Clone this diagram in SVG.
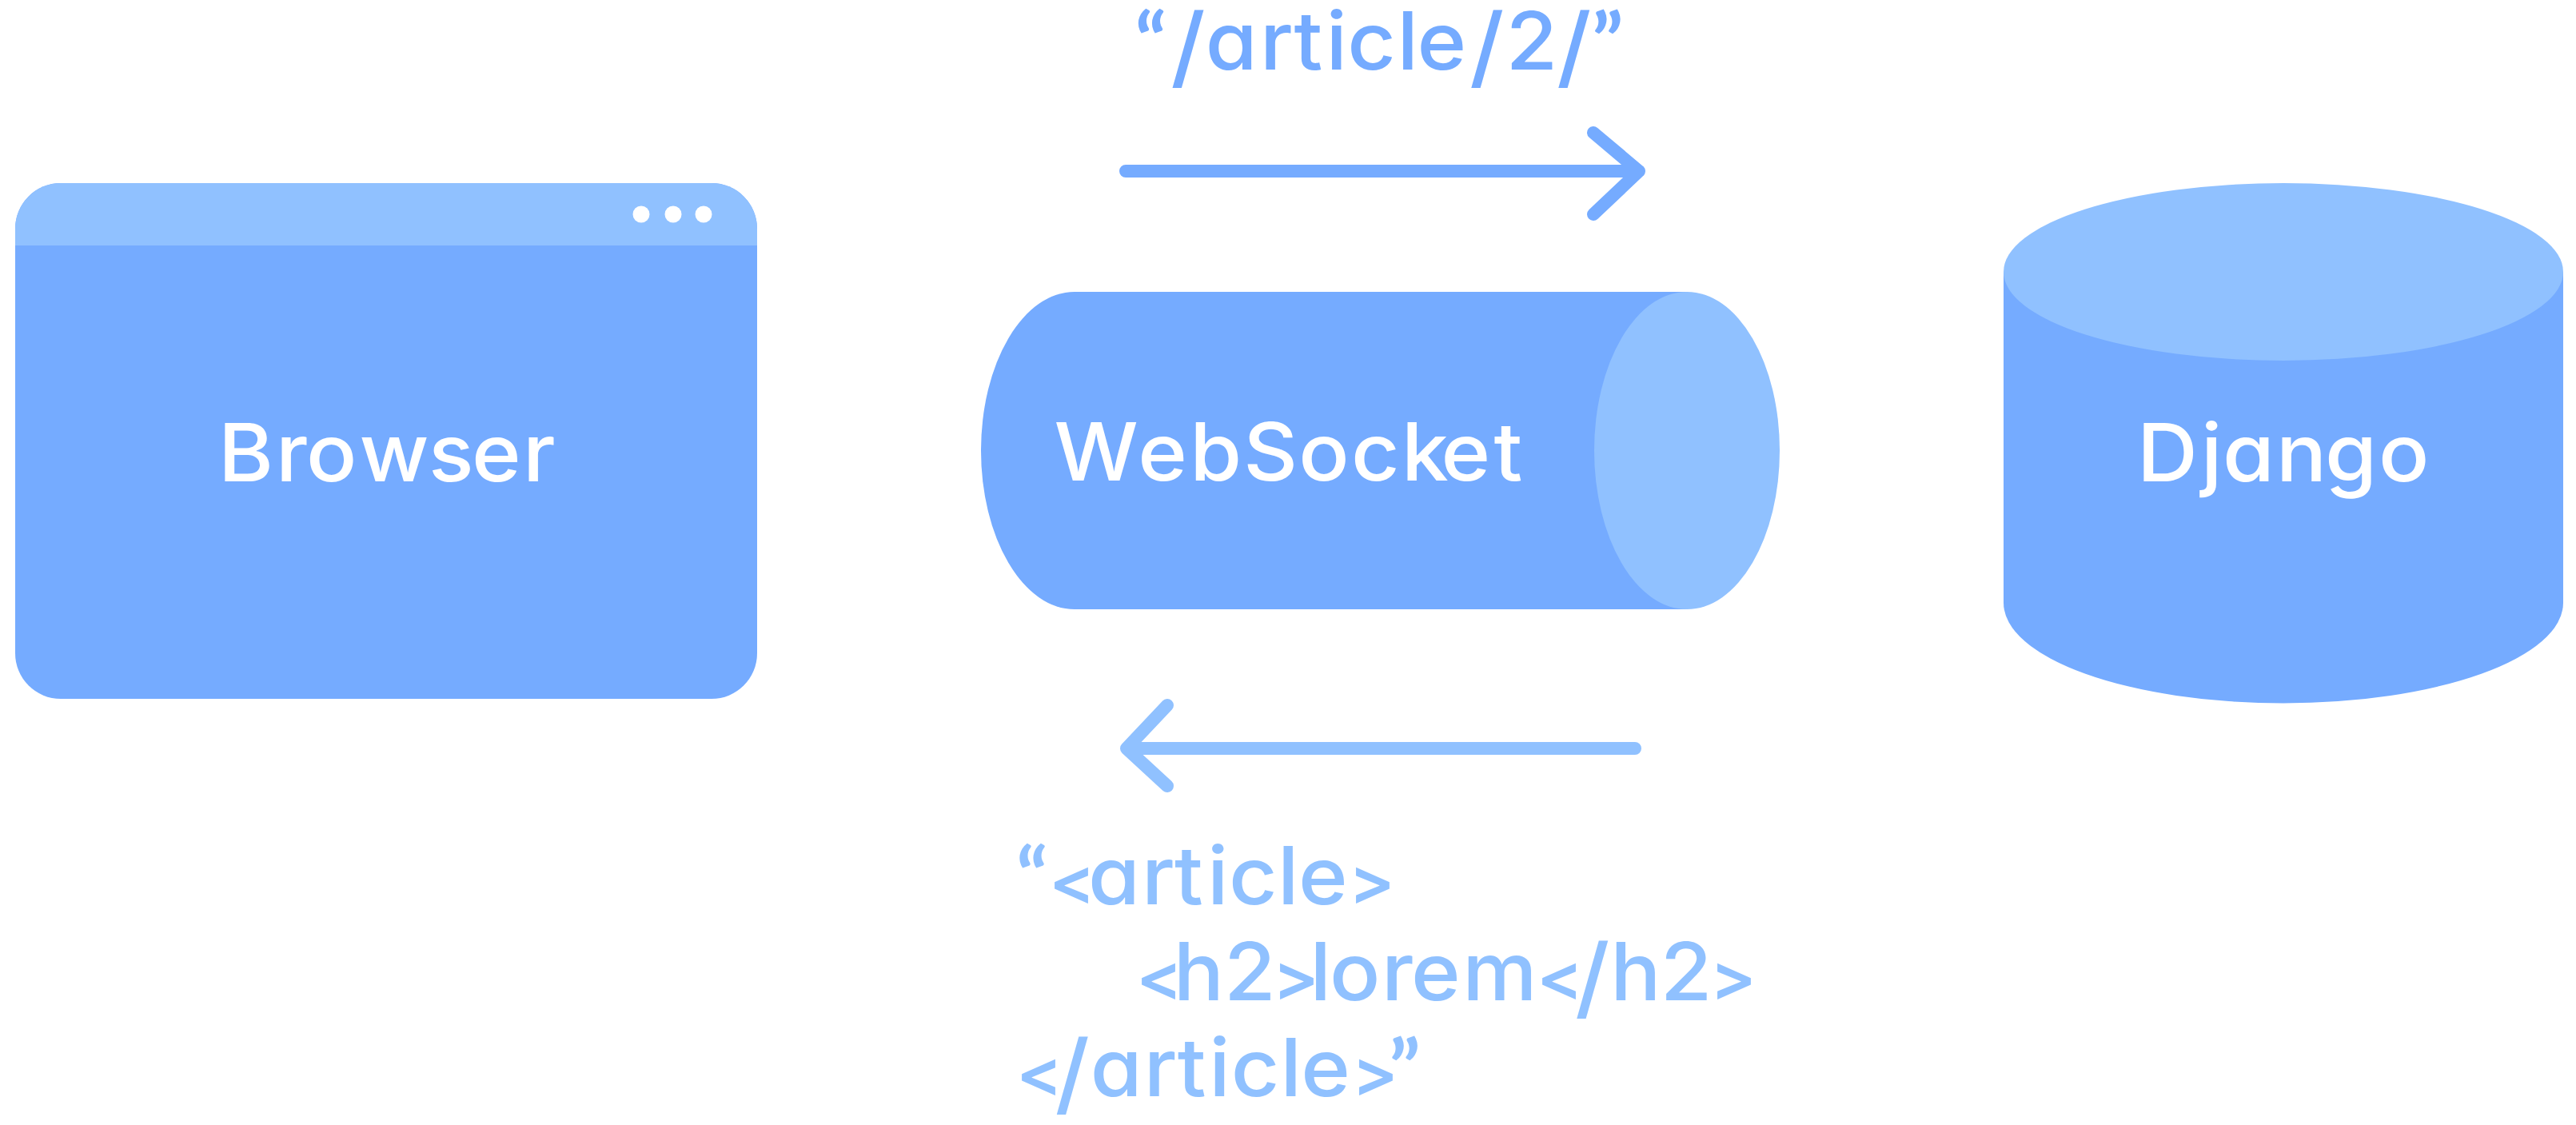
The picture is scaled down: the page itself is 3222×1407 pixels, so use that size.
<svg xmlns="http://www.w3.org/2000/svg" width="3222" height="1407" viewBox="0 0 3222 1407">
<style>
.d{fill:#75ABFF}.l{fill:#90C1FF}.w{fill:#fff}
text{font-family:Inter,"Noto Sans","Liberation Sans",sans-serif;font-size:100px;font-weight:500;font-feature-settings:"cv11";transform:scaleX(1.05)}
.q{font-family:Lato,"Liberation Sans",sans-serif;font-size:98px;font-weight:700}
.b{font-size:82px;font-weight:600}
.s{font-size:112px}
.a{fill:none;stroke-width:16;stroke-linecap:round;stroke-linejoin:round}
</style>
<rect width="3222" height="1407" fill="#fff"/>
<g id="browser">
<rect class="d" x="19" y="229" width="928" height="645" rx="57"/>
<path class="l" d="M19 307V286A57 57 0 0 1 76 229H890A57 57 0 0 1 947 286V307Z"/>
<circle class="w" cx="802" cy="268" r="10.500"/><circle class="w" cx="842" cy="268" r="10.500"/><circle class="w" cx="880" cy="268" r="10.500"/>
<text class="w" x="260 328.6 364.8 428.1 510.5 561.9 622.9" y="602">Browser</text>
</g>
<g id="websocket">
<path class="d" d="M1344 365H2110V762H1344A117 198.500 0 0 1 1344 365Z"/>
<ellipse class="l" cx="2110" cy="563.500" rx="116" ry="198.500"/>
<text class="w" x="1255.8 1355.6 1417.5 1481.3 1546.9 1609.5 1669.5 1716.7 1779.5" y="601">WebSocket</text>
</g>
<g id="django">
<path class="d" d="M2506 340H3206V754A350 125.500 0 0 1 2506 754Z"/>
<ellipse class="l" cx="2856" cy="340" rx="350" ry="111"/>
<text class="w" x="2545.7 2621.9 2647.6 2711.4 2769.5 2833.3" y="602">Django</text>
</g>
<g id="connectors">
<path class="a" stroke="#75ABFF" d="M1408 214H2050M1993 166L2050 214M1993 268L2050 214"/>
<path class="a" stroke="#90C1FF" d="M2045 936H1409M1460 882L1409 936M1460 983L1409 936"/>
</g>
<g id="labels">
<text class="d" y="87"><tspan class="q" x="1351.8">“</tspan><tspan class="s" x="1394.5" dy="11">/</tspan><tspan x="1436 1501 1541.5 1579.5 1605 1664.4 1688" dy="-11">article</tspan><tspan class="s" x="1750.5" dy="11">/</tspan><tspan x="1793.8" dy="-11">2</tspan><tspan class="s" x="1854.3" dy="11">/</tspan><tspan class="q" x="1895.9" dy="-11">”</tspan></text>
<text class="l" y="1131"><tspan class="q" x="1210.5">“</tspan><tspan class="b" x="1249.6">&lt;</tspan><tspan x="1296.2 1360 1399 1438.1 1463.8 1521.9 1546.7">article</tspan><tspan class="b" x="1606.7">&gt;</tspan></text>
<text class="l" y="1251"><tspan class="b" x="1353.4">&lt;</tspan><tspan x="1397.8 1458.1">h2</tspan><tspan class="b" x="1516.2">&gt;</tspan><tspan x="1560.6 1583.8 1645.7 1681 1742.2">lorem</tspan><tspan class="b" x="1830.5">&lt;</tspan><tspan class="s" x="1876.2" dy="11">/</tspan><tspan x="1918.3 1977.9" dy="-11">h2</tspan><tspan class="b" x="2037.1">&gt;</tspan></text>
<text class="l" y="1371"><tspan class="b" x="1210.5">&lt;</tspan><tspan class="s" x="1256.6" dy="11">/</tspan><tspan x="1298.9 1362.6 1402.6 1440.3 1466.5 1525.3 1549.7" dy="-11">article</tspan><tspan class="b" x="1610.5">&gt;</tspan><tspan class="q" x="1654.3">”</tspan></text>
</g>
</svg>
